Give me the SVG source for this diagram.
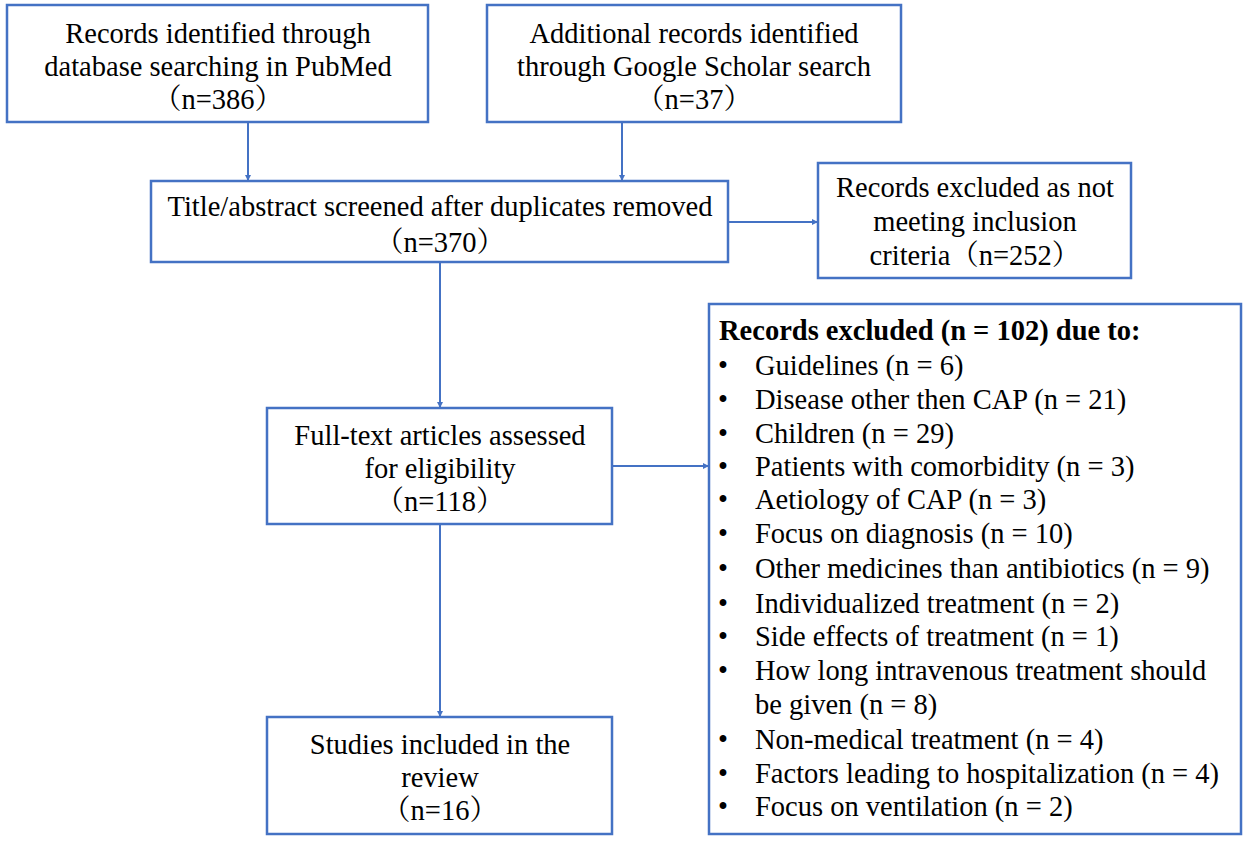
<svg xmlns="http://www.w3.org/2000/svg" width="1253" height="844" viewBox="0 0 1253 844">
<style>
.b{fill:#fff;stroke:#4472C4;stroke-width:2.5}
text{font-family:"Liberation Serif","Noto Serif CJK SC","Noto Sans CJK SC",serif;font-size:28.5px;fill:#000}
.c{text-anchor:middle}
.l{stroke:#4472C4;stroke-width:2;fill:none;marker-end:url(#a)}
</style>
<defs><marker id="a" viewBox="0 0 10 10" refX="10" refY="5" markerWidth="6" markerHeight="6" orient="auto" markerUnits="userSpaceOnUse"><path d="M0,0L10,5L0,10z" fill="#4472C4"/></marker></defs>
<rect width="1253" height="844" fill="#fff"/>
<g id="connectors">
<path class="l" d="M248,122V181"/>
<path class="l" d="M622,122V181"/>
<path class="l" d="M728,222H818"/>
<path class="l" d="M440,262V408"/>
<path class="l" d="M612,466H709"/>
<path class="l" d="M440,524V717"/>
</g>
<g id="n1"><rect class="b" x="7" y="5" width="421" height="117"/>
<text class="c" x="218" y="43">Records identified through</text><text class="c" x="218" y="76">database searching in PubMed</text><text class="c" x="218" y="109">（n=386）</text></g>
<g id="n2"><rect class="b" x="487" y="5" width="414" height="117"/>
<text class="c" x="694" y="43">Additional records identified</text><text class="c" x="694" y="76">through Google Scholar search</text><text class="c" x="694" y="109">（n=37）</text></g>
<g id="n3"><rect class="b" x="151" y="181" width="577" height="81"/>
<text class="c" x="440" y="216">Title/abstract screened after duplicates removed</text><text class="c" x="440" y="252">（n=370）</text></g>
<g id="n4"><rect class="b" x="818" y="163" width="313" height="115"/>
<text class="c" x="975" y="197">Records excluded as not</text><text class="c" x="975" y="231">meeting inclusion</text><text class="c" x="975" y="265">criteria（n=252）</text></g>
<g id="n5"><rect class="b" x="267" y="408" width="345" height="116"/>
<text class="c" x="440" y="445">Full-text articles assessed</text><text class="c" x="440" y="478">for eligibility</text><text class="c" x="440" y="511">（n=118）</text></g>
<g id="n6"><rect class="b" x="267" y="717" width="345" height="117"/>
<text class="c" x="440" y="754">Studies included in the</text><text class="c" x="440" y="787">review</text><text class="c" x="440" y="820">（n=16）</text></g>
<g id="n7"><rect class="b" x="709" y="304" width="532" height="530"/>
<text x="719" y="340" font-weight="bold">Records excluded (n = 102) due to:</text>
<g>
<text x="718" y="375">•</text><text x="755" y="375">Guidelines (n = 6)</text>
<text x="718" y="409">•</text><text x="755" y="409">Disease other then CAP (n = 21)</text>
<text x="718" y="443">•</text><text x="755" y="443">Children (n = 29)</text>
<text x="718" y="476">•</text><text x="755" y="476">Patients with comorbidity (n = 3)</text>
<text x="718" y="509">•</text><text x="755" y="509">Aetiology of CAP (n = 3)</text>
<text x="718" y="543">•</text><text x="755" y="543">Focus on diagnosis (n = 10)</text>
<text x="718" y="578">•</text><text x="755" y="578">Other medicines than antibiotics (n = 9)</text>
<text x="718" y="613">•</text><text x="755" y="613">Individualized treatment (n = 2)</text>
<text x="718" y="646">•</text><text x="755" y="646">Side effects of treatment (n = 1)</text>
<text x="718" y="680">•</text><text x="755" y="680">How long intravenous treatment should</text>
<text x="755" y="714">be given (n = 8)</text>
<text x="718" y="749">•</text><text x="755" y="749">Non-medical treatment (n = 4)</text>
<text x="718" y="783">•</text><text x="755" y="783">Factors leading to hospitalization (n = 4)</text>
<text x="718" y="816">•</text><text x="755" y="816">Focus on ventilation (n = 2)</text>
</g></g>
</svg>
